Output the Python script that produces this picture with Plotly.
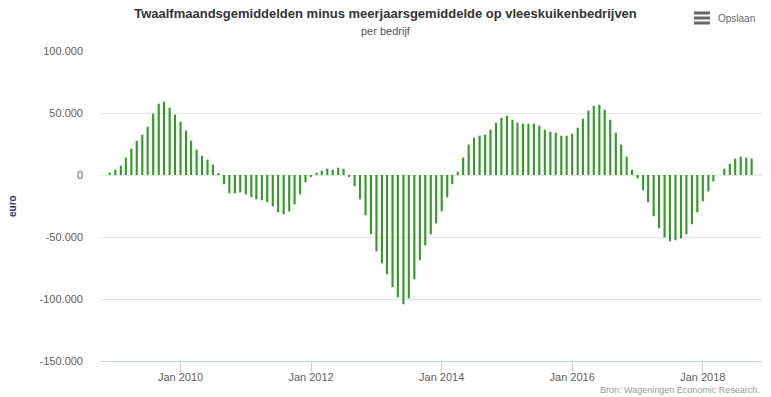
import pandas as pd
import plotly.graph_objects as go

# ---- data (euro per bedrijf), monthly from Dec 2008 to Oct 2018 ----
start_month = "2008-12-01"
values = [
    2000,
    # 2009
    4300, 7500, 14000, 21200, 27700, 32500, 39000, 49500, 57500, 59100, 54300, 48700,
    # 2010
    43000, 35800, 27700, 20400, 15600, 12400, 8300, 1100, -7500, -14800, -14800, -14000,
    # 2011
    -15600, -18000, -19600, -20400, -22000, -25300, -30100, -31700, -29300, -23700, -15600, -5900,
    # 2012
    -1100, 1900, 3500, 5100, 4300, 5900, 5100, -1100, -9100, -19600, -32500, -47800,
    # 2013
    -61600, -71200, -80100, -90600, -98600, -104300, -99500, -84100, -68800, -56700, -47800, -39000,
    # 2014
    -29300, -18000, -7500, 2700, 14000, 24500, 30100, 31700, 32500, 36600, 42200, 46200,
    # 2015
    47800, 44600, 42200, 41400, 41400, 41400, 39800, 36600, 34900, 34100, 31700, 31700,
    # 2016
    33300, 38200, 45400, 51900, 55900, 56700, 52700, 44600, 34100, 24500, 14800, 4300,
    # 2017
    -2700, -12400, -22000, -33300, -43000, -50300, -53500, -52700, -51100, -47800, -39800, -30100,
    # 2018
    -21200, -13200, -5100, None, 5100, 9100, 13200, 14800, 14000, 13200,
]
months = pd.date_range(start_month, periods=len(values), freq="MS")

y_ticks = [100000, 50000, 0, -50000, -100000, -150000]
y_tick_labels = ["100.000", "50.000", "0", "-50.000", "-100.000", "-150.000"]
x_ticks = ["2010-01-01", "2012-01-01", "2014-01-01", "2016-01-01", "2018-01-01"]
x_tick_labels = ["Jan 2010", "Jan 2012", "Jan 2014", "Jan 2016", "Jan 2018"]

title_text = "Twaalfmaandsgemiddelden minus meerjaarsgemiddelde op vleeskuikenbedrijven"
subtitle_text = "per bedrijf"
source_text = "Bron: Wageningen Economic Research."

FONT = "Liberation Sans, Arial, sans-serif"
W, H = 771, 397
L, R, T, B = 101, 9, 51, 36

fig = go.Figure()
fig.add_trace(go.Bar(
    x=months, y=values,
    width=12 * 24 * 3600 * 1000,
    marker=dict(color="#34992a", line=dict(width=0)),
    hoverinfo="x+y",
))

fig.update_layout(
    width=W, height=H,
    margin=dict(l=L, r=R, t=T, b=B, pad=0),
    paper_bgcolor="white", plot_bgcolor="white",
    showlegend=False,
    font=dict(family=FONT, color="#606060", size=11),
    title=dict(
        text="<b>" + title_text + "</b>",
        x=0.5, xref="container", xanchor="center",
        y=1 - 13 / H, yref="container", yanchor="middle",
        font=dict(family=FONT, size=13, color="#333333"),
    ),
    xaxis=dict(
        type="date",
        range=["2008-10-13", "2018-11-28"],
        tickvals=x_ticks, ticktext=x_tick_labels,
        showgrid=False, zeroline=False,
        showline=True, linecolor="#C0D0E0", linewidth=1,
        ticks="outside", ticklen=10, tickcolor="#C0D0E0", tickwidth=1,
        ticklabelstandoff=-4,
        tickfont=dict(size=11, color="#606060"),
    ),
    yaxis=dict(
        range=[-150000, 100000],
        tickvals=y_ticks, ticktext=y_tick_labels,
        showgrid=True, gridcolor="#e6e6e6", gridwidth=1,
        zeroline=False, showline=False,
        ticks="", ticklabelstandoff=17,
        tickfont=dict(size=11, color="#606060"),
    ),
    annotations=[
        dict(text=subtitle_text, xref="paper", yref="paper",
             x=(385.5 - L) / (W - L - R), y=1 + (T - 31) / (H - T - B),
             xanchor="center", yanchor="middle", showarrow=False,
             font=dict(size=11, color="#555555")),
        dict(text="<b>euro</b>", xref="paper", yref="paper",
             x=(12 - L) / (W - L - R), y=0.5, textangle=-90,
             xanchor="center", yanchor="middle", showarrow=False,
             font=dict(size=10, color="#3a2d5c")),
        dict(text=source_text, xref="paper", yref="paper",
             x=1, y=-(389.5 - (H - B)) / (H - T - B),
             xanchor="right", yanchor="middle", showarrow=False,
             font=dict(size=9, color="#999999")),
        dict(text="Opslaan", xref="paper", yref="paper",
             x=(716 - L) / (W - L - R), y=1 + (T - 19) / (H - T - B),
             xanchor="left", yanchor="middle", showarrow=False,
             font=dict(size=10, color="#666666")),
    ],
)

# hamburger icon of the export button
for yy in (13, 18, 23):
    fig.add_shape(
        type="rect", xref="paper", yref="paper",
        x0=(694 - L) / (W - L - R), x1=(710 - L) / (W - L - R),
        y0=1 + (T - yy + 1.5) / (H - T - B), y1=1 + (T - yy - 1.5) / (H - T - B),
        line=dict(width=0), fillcolor="#666666", layer="above",
    )

fig.write_html(
    "out.html",
    config={"displayModeBar": False},
    post_script="document.body.style.margin='0';document.body.style.padding='0';",
)
